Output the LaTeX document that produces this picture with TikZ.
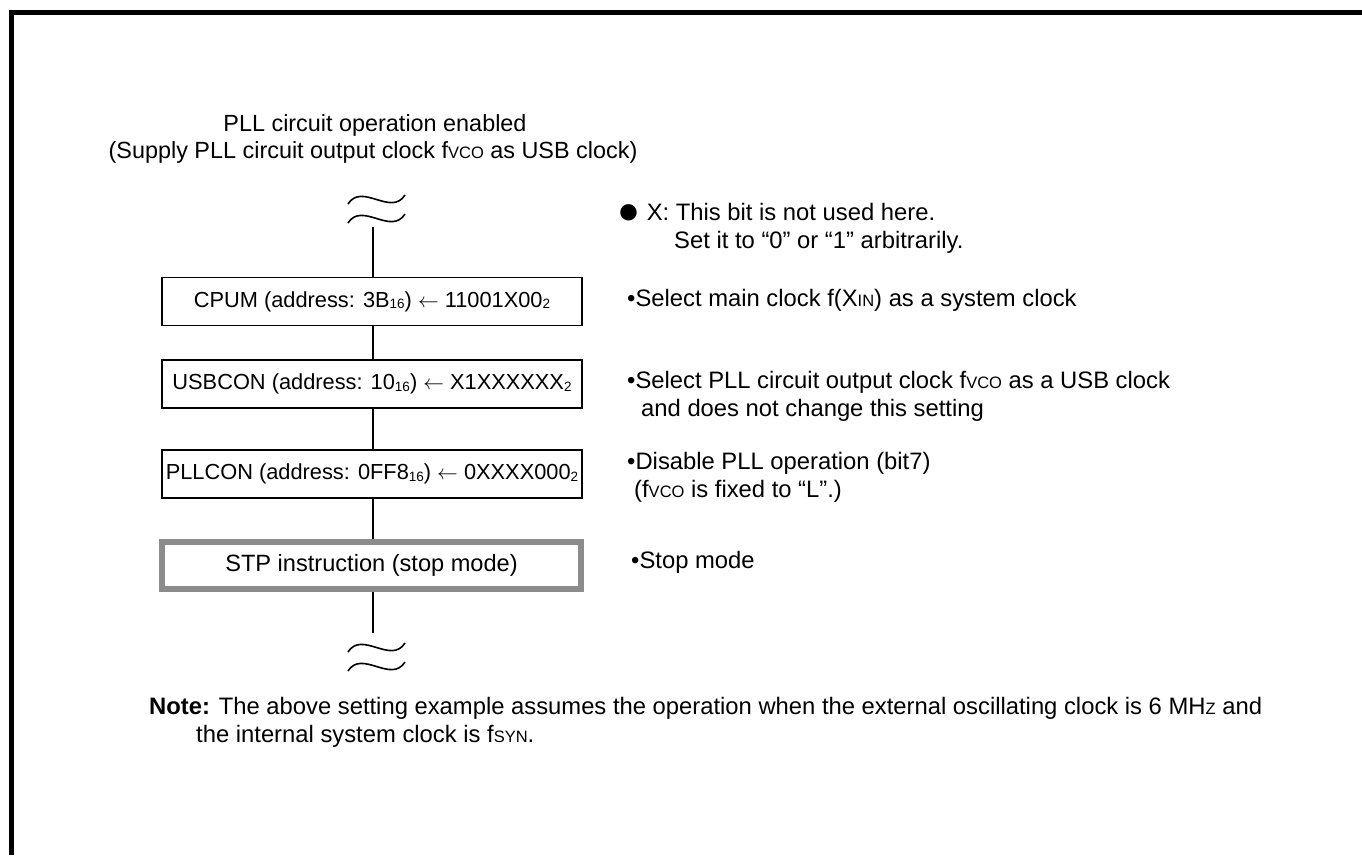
\documentclass[tikz,border=0pt]{standalone}
\usepackage{fontspec}
\setmainfont{Liberation Sans}
\newcommand\subsm[1]{\raisebox{-1.5pt}{\fontsize{13.5}{14}\selectfont #1}}
\newcommand\smc[1]{{\fontsize{16.5}{17}\selectfont #1}}
\newcommand\bigdot{\raisebox{-3pt}{\fontsize{38}{38}\selectfont ●}}
\definecolor{framegray}{gray}{0.55}
\begin{document}
\begin{tikzpicture}[x=1pt,y=-1pt,
  box/.style={draw,line width=1.6pt,minimum width=420pt,minimum height=48pt,inner sep=0pt,font=\fontsize{21.8}{24}\selectfont},
  stpbox/.style={draw=framegray,line width=6pt,minimum width=419pt,minimum height=47pt,inner sep=0pt,font=\fontsize{23.6}{26}\selectfont},
  lbl/.style={anchor=base west,inner sep=0pt,font=\fontsize{23.8}{26}\selectfont},
  ttl/.style={anchor=base,inner sep=0pt,font=\fontsize{23.4}{26}\selectfont},
  conn/.style={line width=1.6pt},
  wave/.style={line width=1.6pt}]
\useasboundingbox (0,0) rectangle (1362,855);
\draw[line width=5pt] (11.5,855) -- (11.5,12.5) -- (1362,12.5);

% titles
\node[ttl] (t1) at (375,131.5) {PLL circuit operation enabled};
\node[ttl] (t2) at (373,158.5) {(Supply PLL circuit output clock f\smc{VCO} as USB clock)};

% top squiggle
\draw[wave] (348,204) .. controls (362,182) and (391,217) .. (405,195);
\draw[wave] (348,223) .. controls (362,201) and (391,236) .. (405,214);
\coordinate (topend) at (373,227);

% boxes
\node[box] (cpum) at (372,301.5) {CPUM (address: 3B\subsm{16}) $\leftarrow$ 11001X00\subsm{2}};
\node[box] (usb) at (372,384) {USBCON (address: 10\subsm{16}) $\leftarrow$ X1XXXXXX\subsm{2}};
\node[box] (pll) at (372,474) {PLLCON (address: 0FF8\subsm{16}) $\leftarrow$ 0XXXX000\subsm{2}};
\node[stpbox] (stp) at (371.5,565.5) {STP instruction (stop mode)};

\coordinate (botend) at (373,633);
\draw[wave] (348,652) .. controls (362,630) and (391,665) .. (405,643);
\draw[wave] (348,671) .. controls (362,649) and (391,684) .. (405,662);

\draw[conn] (topend) -- (cpum.north -| topend);
\draw[conn] (cpum.south -| topend) -- (usb.north -| topend);
\draw[conn] (usb.south -| topend) -- (pll.north -| topend);
\draw[conn] (pll.south -| topend) -- (stp.north -| topend);
\draw[conn] (stp.south -| topend) -- (botend);

% right notes
\node[lbl] (n1) at (617,220.5) {\bigdot{} X: This bit is not used here.};
\node[lbl] (n2) at (674,248.5) {Set it to “0” or “1” arbitrarily.};
\node[lbl] (n3) at (627,306.5) {•Select main clock f(X\smc{IN}) as a system clock};
\node[lbl] (n4) at (627,388.5) {•Select PLL circuit output clock f\smc{VCO} as a USB clock};
\node[lbl] (n5) at (641,416.5) {and does not change this setting};
\node[lbl] (n6) at (627,469.5) {•Disable PLL operation (bit7)};
\node[lbl] (n7) at (634,497.5) {(f\smc{VCO} is fixed to “L”.)};
\node[lbl] (n8) at (631,568) {•Stop mode};

% note
\node[lbl] (note1) at (149,714.5) {\textbf{Note:} The above setting example assumes the operation when the external oscillating clock is 6 MH\smc{Z} and};
\node[lbl] (note2) at (196,742.5) {the internal system clock is f\smc{SYN}.};
\end{tikzpicture}
\end{document}
